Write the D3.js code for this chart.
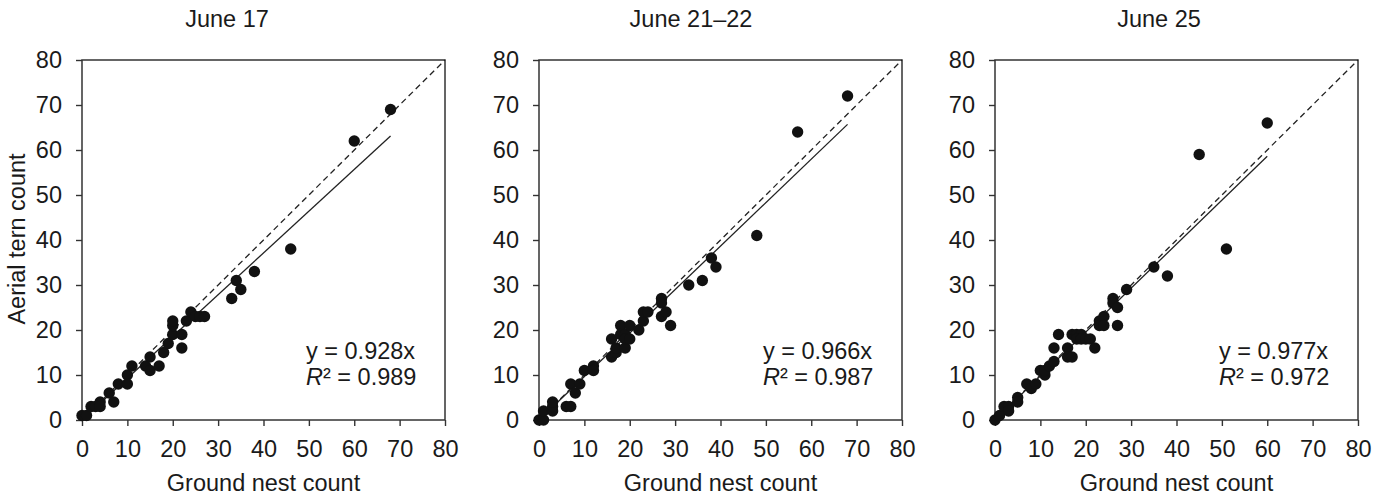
<!DOCTYPE html>
<html>
<head>
<meta charset="utf-8">
<script src="https://d3js.org/d3.v7.min.js"></script>
<style>
    body {
        margin: 0;
        background: #fff;
        font-family: "Liberation Sans", Arial, Helvetica, sans-serif;
    }
    .tick text {
        font-size: 23.5px;
        fill: #1a1a1a;
    }
    .tick line {
        stroke: #333;
        stroke-width: 1.4px;
    }
</style>
</head>
<body>
<script>

var width = 1382,
    height = 497;

// panel titles and fitted slopes / R2
var titles = ["June 17", "June 21\u201322", "June 25"];
var slopes = [0.928, 0.966, 0.977];
var r2 = ["0.989", "0.987", "0.972"];
var fitMax = [68, 68, 60];   // regression line drawn up to this ground count
var ticks = [0, 10, 20, 30, 40, 50, 60, 70, 80];

// ground nest count (x) and aerial tern count (y), per panel
var june17_x = [0, 1, 2, 3, 4, 4, 6, 7, 8, 10, 10, 11, 14, 15, 15, 17, 18, 19, 20, 20, 20, 22, 22, 23, 24, 25, 26, 27, 33, 34, 35, 38, 46, 60, 68];
var june17_y = [1, 1, 3, 3, 4, 3, 6, 4, 8, 10, 8, 12, 12, 11, 14, 12, 15, 17, 19, 21, 22, 19, 16, 22, 24, 23, 23, 23, 27, 31, 29, 33, 38, 62, 69];

var june21_x = [0, 1, 1, 3, 3, 3, 6, 7, 7, 8, 9, 10, 12, 12, 16, 16, 17, 17, 18, 18, 19, 19, 19, 20, 20, 22, 23, 23, 24, 27, 27, 27, 28, 29, 33, 36, 38, 39, 48, 57, 68];
var june21_y = [0, 0, 2, 2, 3, 4, 3, 3, 8, 6, 8, 11, 12, 11, 14, 18, 15, 16, 21, 19, 19, 16, 18, 21, 18, 20, 22, 24, 24, 27, 26, 23, 24, 21, 30, 31, 36, 34, 41, 64, 72];

var june25_x = [0, 1, 2, 3, 3, 5, 5, 7, 8, 9, 10, 11, 11, 12, 13, 13, 14, 16, 16, 17, 17, 18, 19, 18, 19, 20, 21, 22, 23, 23, 24, 24, 26, 26, 27, 27, 29, 35, 38, 45, 51, 60];
var june25_y = [0, 1, 3, 3, 2, 5, 4, 8, 7, 8, 11, 10, 11, 12, 13, 16, 19, 16, 14, 14, 19, 19, 19, 18, 18, 18, 18, 16, 22, 21, 23, 21, 27, 26, 25, 21, 29, 34, 32, 59, 38, 66];

var xs = [june17_x, june21_x, june25_x];
var ys = [june17_y, june21_y, june25_y];

// layout of the three panels
var panelLeft = [82, 539, 995],
    panelTop = 60,
    pw = 363,
    ph = 360,
    titleX = [227, 691, 1159];

var svg = d3.select("body").append("svg")
    .attr("width", width)
    .attr("height", height);

titles.forEach(function(t, p) {

    var x = d3.scaleLinear().domain([0, 80]).range([0, pw]);
    var y = d3.scaleLinear().domain([0, 80]).range([ph, 0]);

    var g = svg.append("g")
        .attr("transform", "translate(" + panelLeft[p] + "," + panelTop + ")");

    // title
    svg.append("text")
        .attr("x", titleX[p])
        .attr("y", 27)
        .attr("text-anchor", "middle")
        .style("font-size", "23.5px")
        .style("fill", "#1a1a1a")
        .text(t);

    // axes (ticks only, the frame is drawn as a rect)
    var xAxis = g.append("g")
        .attr("transform", "translate(0," + ph + ")")
        .call(d3.axisBottom(x).tickValues(ticks).tickSize(6).tickPadding(14));
    var yAxis = g.append("g")
        .call(d3.axisLeft(y).tickValues(ticks).tickSize(6).tickPadding(14));
    xAxis.select(".domain").remove();
    yAxis.select(".domain").remove();
    g.selectAll(".tick text").style("font-family", "'Liberation Sans', Arial, sans-serif");

    g.append("rect")
        .attr("x", 0)
        .attr("y", 0)
        .attr("width", pw)
        .attr("height", ph)
        .style("fill", "none")
        .style("stroke", "#333")
        .style("stroke-width", 1.5);

    // 1:1 line
    g.append("line")
        .attr("x1", x(0)).attr("y1", y(0))
        .attr("x2", x(80)).attr("y2", y(80))
        .style("stroke", "#222")
        .style("stroke-width", 1.3)
        .style("stroke-dasharray", "6,4");

    // regression line through origin
    g.append("line")
        .attr("x1", x(0)).attr("y1", y(0))
        .attr("x2", x(fitMax[p])).attr("y2", y(fitMax[p] * slopes[p]))
        .style("stroke", "#222")
        .style("stroke-width", 1.3);

    var pts = xs[p].map(function(v, i) { return {gx: v, ay: ys[p][i]}; });

    g.selectAll("circle")
        .data(pts)
        .enter().append("circle")
        .attr("cx", function(d) { return x(d.gx); })
        .attr("cy", function(d) { return y(d.ay); })
        .attr("r", 5.7)
        .style("fill", "#111");

    // equation
    var eq = g.append("text")
        .attr("x", 224)
        .attr("y", 299)
        .style("font-size", "23.5px")
        .style("fill", "#1a1a1a");
    eq.append("tspan").text("y = " + slopes[p].toFixed(3) + "x");
    var eq2 = g.append("text")
        .attr("x", 224)
        .attr("y", 325)
        .style("font-size", "23.5px")
        .style("fill", "#1a1a1a");
    eq2.append("tspan").style("font-style", "italic").text("R");
    eq2.append("tspan").text("\u00b2 = " + r2[p]);

    // x label
    svg.append("text")
        .attr("x", panelLeft[p] + pw / 2)
        .attr("y", 491)
        .attr("text-anchor", "middle")
        .style("font-size", "23.5px")
        .style("fill", "#1a1a1a")
        .text("Ground nest count");
});

// y label, first panel only
svg.append("text")
    .attr("transform", "translate(25,239) rotate(-90)")
    .attr("text-anchor", "middle")
    .style("font-size", "23.5px")
    .style("fill", "#1a1a1a")
    .text("Aerial tern count");

</script>
</body>
</html>
